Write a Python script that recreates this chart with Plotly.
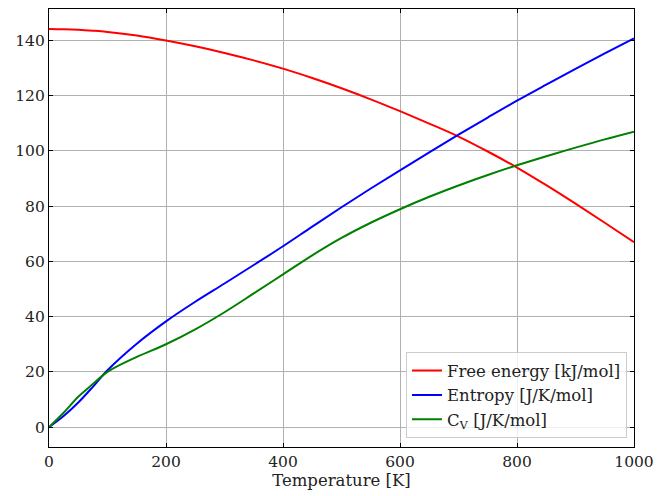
import plotly.graph_objects as go

temperature = [0, 25, 50, 75, 100, 150, 200, 250, 300, 350, 400, 450, 500, 550,
               600, 650, 700, 750, 800, 850, 900, 950, 1000]

free_energy = [144.2, 144.1, 143.9, 143.55, 143.1, 141.8, 140.0, 137.9, 135.5, 132.8,
               129.8, 126.4, 122.7, 118.7, 114.4, 109.9, 105.2, 99.8, 94.0, 87.6,
               80.9, 74.0, 67.0]

entropy = [0, 4.0, 8.9, 14.6, 20.6, 30.2, 38.3, 45.4, 52.0, 58.7, 65.5, 72.6, 79.6,
           86.4, 93.0, 99.5, 105.9, 112.1, 118.2, 124.0, 129.7, 135.3, 140.8]

cv = [0, 5.2, 11.0, 15.6, 20.0, 25.4, 30.0, 35.4, 41.6, 48.4, 55.3, 62.2, 68.5,
      74.0, 78.9, 83.4, 87.5, 91.3, 94.8, 98.1, 101.2, 104.2, 107.0]

x_ticks = [0, 200, 400, 600, 800, 1000]
y_ticks = [0, 20, 40, 60, 80, 100, 120, 140]

series = [
    ("Free energy [kJ/mol]", free_energy, "#ff0000"),
    ("Entropy [J/K/mol]", entropy, "#0000ff"),
    ("C<sub>V</sub> [J/K/mol]", cv, "#008000"),
]

fig = go.Figure()
for name, vals, color in series:
    fig.add_trace(go.Scatter(
        x=temperature, y=vals, name=name, mode="lines",
        line=dict(color=color, width=2, shape="spline", smoothing=1.0),
    ))

tick_font = dict(family="DejaVu Serif", size=15.5, color="#222222")
label_font = dict(family="DejaVu Serif", size=16.5, color="#222222")
legend_font = dict(family="DejaVu Serif", size=16.5, color="#222222")

axis_common = dict(
    showline=True, linecolor="black", linewidth=1.2, mirror="ticks",
    ticks="inside", ticklen=4, tickwidth=1, tickcolor="black",
    showgrid=True, gridcolor="#b0b0b0", gridwidth=1, zeroline=False,
    tickfont=tick_font, automargin=False, ticklabeloverflow="allow",
)

fig.update_layout(
    width=659, height=496,
    margin=dict(l=49, r=25, t=9, b=49),
    paper_bgcolor="white", plot_bgcolor="white",
    font=legend_font,
    xaxis=dict(range=[0, 1000], tickvals=x_ticks,
               title=dict(text="Temperature [K]", font=label_font, standoff=4),
               **axis_common),
    yaxis=dict(range=[-7.2, 151.4], tickvals=y_ticks, **axis_common),
    legend=dict(x=0.988, y=0.02, xanchor="right", yanchor="bottom",
                bgcolor="rgba(255,255,255,0.8)", bordercolor="#cccccc",
                borderwidth=1, font=legend_font, tracegroupgap=0),
    showlegend=True,
)

fig.write_html("out.html")
